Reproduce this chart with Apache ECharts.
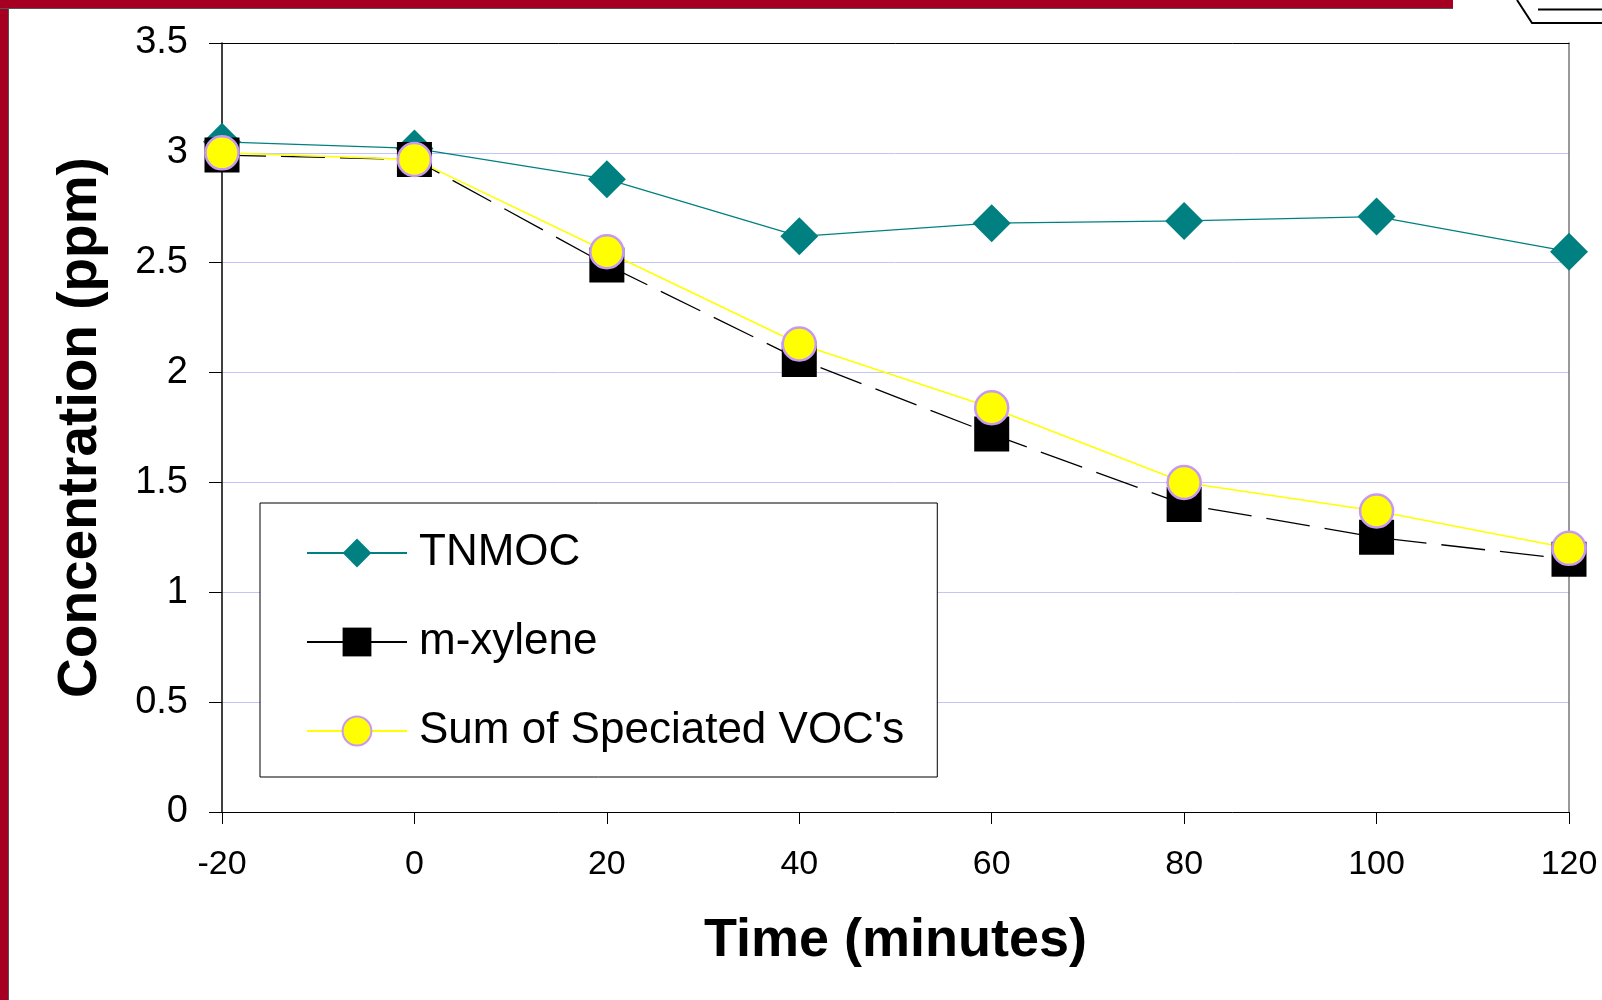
<!DOCTYPE html>
<html>
<head>
<meta charset="utf-8">
<script src="https://cdn.jsdelivr.net/npm/echarts@6/dist/echarts.min.js"></script>
<style>
html,body{margin:0;padding:0;background:#fff;}
#chart{width:1602px;height:1000px;}
</style>
</head>
<body>
<div id="chart"></div>
<script>
// ---- data ----
const times = [-20, 0, 20, 40, 60, 80, 100, 120];
const tnmoc = [3.05, 3.02, 2.88, 2.62, 2.68, 2.69, 2.71, 2.55];
const mXylene = [2.99, 2.97, 2.49, 2.06, 1.72, 1.40, 1.25, 1.15];
const sumVoc = [3.00, 2.97, 2.55, 2.13, 1.84, 1.50, 1.37, 1.20];
const seriesNames = ['TNMOC', 'm-xylene', "Sum of Speciated VOC's"];
const xTitle = 'Time (minutes)';
const yTitle = 'Concentration (ppm)';

const pairs = arr => times.map((t, i) => [t, arr[i]]);
const FONT = "'Liberation Sans', Arial, sans-serif";
const RED = '#a50021';

const chart = echarts.init(document.getElementById('chart'), null, {renderer: 'canvas'});
chart.setOption({
  backgroundColor: '#fff',
  animation: false,
  textStyle: {fontFamily: FONT},
  grid: {left: 222, right: 33, top: 43, bottom: 188, containLabel: false},
  graphic: [
    {type: 'rect', shape: {x: 0, y: 0, width: 9, height: 1000}, style: {fill: '#555'}, silent: true},
    {type: 'rect', shape: {x: 0, y: 0, width: 8, height: 1000}, style: {fill: RED}, silent: true},
    {type: 'rect', shape: {x: 0, y: 0, width: 1453, height: 9}, style: {fill: '#555'}, silent: true},
    {type: 'rect', shape: {x: 0, y: 0, width: 1453, height: 8}, style: {fill: RED}, silent: true},
    {type: 'polyline', shape: {points: [[1517, 0], [1532, 23], [1602, 23]]}, style: {stroke: '#000', lineWidth: 2, fill: null}, silent: true},
    {type: 'line', shape: {x1: 1538, y1: 9.5, x2: 1602, y2: 9.5}, style: {stroke: '#000', lineWidth: 2}, silent: true}
  ],
  legend: {
    orient: 'vertical',
    left: 260,
    top: 503,
    padding: [24, 33, 20, 46],
    backgroundColor: '#fff',
    borderColor: '#000',
    borderWidth: 1,
    itemWidth: 100,
    itemHeight: 36,
    itemGap: 37,
    textStyle: {fontFamily: FONT, fontSize: 44, color: '#000', lineHeight: 52, padding: [0, 0, 0, 7]},
    data: [
      {name: seriesNames[0]},
      {name: seriesNames[1], lineStyle: {type: 'solid'}},
      {name: seriesNames[2]}
    ]
  },
  xAxis: [{
    type: 'value', min: -20, max: 120, interval: 20, position: 'bottom',
    axisLine: {show: true, onZero: false, lineStyle: {color: '#000', width: 1}},
    axisTick: {show: true, length: 12, lineStyle: {color: '#000', width: 1}},
    axisLabel: {fontSize: 34, color: '#000', margin: 36, fontFamily: FONT},
    splitLine: {show: false},
    name: xTitle, nameLocation: 'middle', nameGap: 102,
    nameTextStyle: {fontSize: 54, fontWeight: 'bold', color: '#000', fontFamily: FONT}
  }, {
    type: 'value', min: -20, max: 120, interval: 20, position: 'top',
    axisLine: {show: true, onZero: false, lineStyle: {color: '#000', width: 1}},
    axisTick: {show: false}, axisLabel: {show: false}, splitLine: {show: false}
  }],
  yAxis: [{
    type: 'value', min: 0, max: 3.5, interval: 0.5, position: 'left',
    axisLine: {show: true, onZero: false, lineStyle: {color: '#000', width: 1.5}},
    axisTick: {show: true, length: 13, lineStyle: {color: '#000', width: 1}},
    axisLabel: {fontSize: 38, color: '#000', margin: 34, fontFamily: FONT, padding: [4, 0, 0, 0]},
    splitLine: {show: true, lineStyle: {color: '#c4c4f8', width: 1}},
    name: yTitle, nameLocation: 'middle', nameGap: 114, nameRotate: 90,
    nameTextStyle: {fontSize: 55, fontWeight: 'bold', color: '#000', fontFamily: FONT}
  }, {
    type: 'value', min: 0, max: 3.5, interval: 0.5, position: 'right',
    axisLine: {show: true, onZero: false, lineStyle: {color: '#777', width: 1.5}},
    axisTick: {show: false}, axisLabel: {show: false}, splitLine: {show: false}
  }],
  series: [{
    name: seriesNames[0], type: 'line', data: pairs(tnmoc),
    symbol: 'diamond', symbolSize: [38, 38],
    itemStyle: {color: '#008080'},
    lineStyle: {color: '#008080', width: 1.3}
  }, {
    name: seriesNames[1], type: 'line', data: pairs(mXylene),
    symbol: 'rect', symbolSize: 35,
    itemStyle: {color: '#000'},
    lineStyle: {color: '#000', width: 1.3, type: [44, 15]}
  }, {
    name: seriesNames[2], type: 'line', data: pairs(sumVoc),
    symbol: 'circle', symbolSize: 33,
    itemStyle: {color: '#ffff00', borderColor: '#c899f0', borderWidth: 2.5},
    lineStyle: {color: '#ffff00', width: 1.5}
  }]
});
</script>
</body>
</html>
